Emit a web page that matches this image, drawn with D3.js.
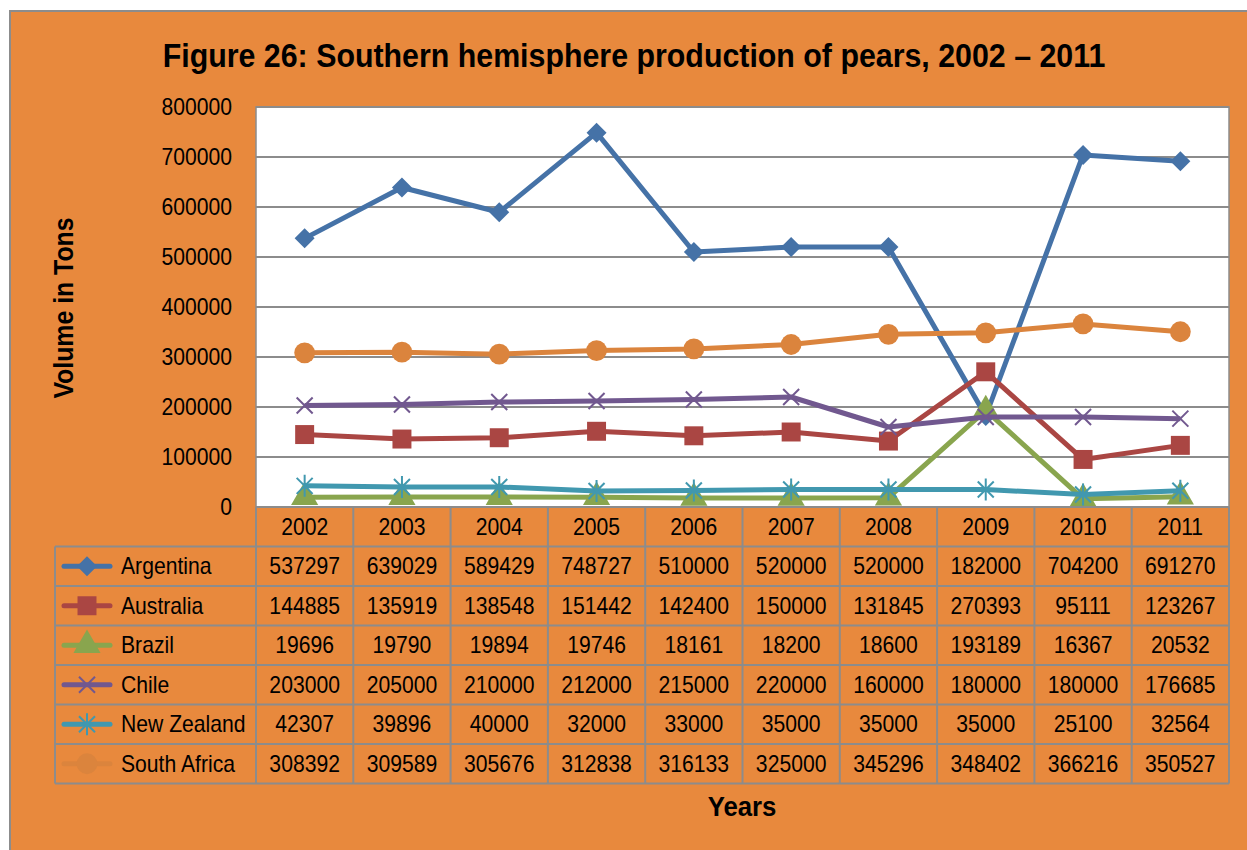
<!DOCTYPE html>
<html>
<head>
<meta charset="utf-8">
<script src="https://cdn.jsdelivr.net/npm/d3@7"></script>
<style>
body { margin: 0; background: #fff; }
text { font-family: "Liberation Sans Narrow", "Arial Narrow", "Liberation Sans", sans-serif; }
</style>
</head>
<body>
<div id="chart"></div>
<script>
// data
var years = ["2002","2003","2004","2005","2006","2007","2008","2009","2010","2011"]
var countries = ["Argentina","Australia","Brazil","Chile","New Zealand","South Africa"]
var argentina = [537297,639029,589429,748727,510000,520000,520000,182000,704200,691270]
var australia = [144885,135919,138548,151442,142400,150000,131845,270393,95111,123267]
var brazil = [19696,19790,19894,19746,18161,18200,18600,193189,16367,20532]
var chile = [203000,205000,210000,212000,215000,220000,160000,180000,180000,176685]
var newzealand = [42307,39896,40000,32000,33000,35000,35000,35000,25100,32564]
var southafrica = [308392,309589,305676,312838,316133,325000,345296,348402,366216,350527]
var yTicks = [0,100000,200000,300000,400000,500000,600000,700000,800000]

var seriesValues = [argentina, australia, brazil, chile, newzealand, southafrica]
var colors = ["#4572A7","#AA4643","#89A54E","#71588F","#4198AF","#DB843D"]
var markers = ["diamond","square","triangle","x","star","circle"]

var W = 1247, H = 850
var bg = "#E8893D"
var gridc = "#8c8c8c"
var sx = 0.92   // squeeze, no narrow font here

var px0 = 256, px1 = 1229, py0 = 107, py1 = 507
var rowH = 39.5
var legX = 55

var svg = d3.select("#chart").append("svg")
    .attr("width", W).attr("height", H)

function ntext(g, x, y, s){
  return g.append("text")
    .attr("transform", "translate(" + x + "," + y + ") scale(" + sx + ",1)")
    .text(s)
}

svg.append("rect")
    .attr("x", 10).attr("y", 11).attr("width", W + 10).attr("height", H + 10)
    .attr("fill", bg).attr("stroke", gridc).attr("stroke-width", 2)

ntext(svg, 634, 67, "Figure 26: Southern hemisphere production of pears, 2002 \u2013 2011")
    .attr("text-anchor", "middle")
    .style("font-size", "33px").style("font-weight", "bold")

var x = d3.scaleBand().domain(years).range([px0, px1])
var y = d3.scaleLinear().domain([0, 800000]).range([py1, py0])

svg.append("rect")
    .attr("x", px0).attr("y", py0).attr("width", px1 - px0).attr("height", py1 - py0)
    .attr("fill", "#fff").attr("stroke", gridc).attr("stroke-width", 1.5)

// grid lines
svg.append("g").selectAll("line").data(yTicks.slice(1))
  .enter().append("line")
  .attr("x1", px0).attr("x2", px1)
  .attr("y1", function(d){return y(d)}).attr("y2", function(d){return y(d)})
  .attr("stroke", gridc).attr("stroke-width", 2)

// y axis labels
var yAxis = d3.axisLeft(y).tickValues(yTicks).tickSize(0).tickPadding(26).tickFormat(d3.format("d"))
var ya = svg.append("g").attr("transform", "translate(" + px0 + ",0)").call(yAxis)
ya.select(".domain").remove()
ya.selectAll("text").style("font-size", "23px").attr("fill", "#000")
  .attr("transform", "scale(" + sx + ",1)")
  .style("font-family", '"Liberation Sans Narrow", "Arial Narrow", sans-serif')

svg.append("text")
    .attr("transform", "translate(73,308) rotate(-90) scale(" + sx + ",1)")
    .attr("text-anchor", "middle")
    .style("font-size", "27px").style("font-weight", "bold")
    .text("Volume in Tons")

svg.append("clipPath").attr("id", "plotclip")
  .append("rect").attr("x", px0).attr("y", py0 - 20).attr("width", px1 - px0 + 10).attr("height", py1 - py0 + 20)

var line = d3.line()
    .x(function(d, i){return x(years[i]) + x.bandwidth() / 2})
    .y(function(d){return y(d)})

function markerPath(type){
  if (type == "diamond") return d3.symbol().type(d3.symbolSquare).size(200)()
  if (type == "square") return d3.symbol().type(d3.symbolSquare).size(360)()
  if (type == "triangle") return d3.symbol().type(d3.symbolTriangle).size(320)()
  if (type == "circle") return d3.symbol().type(d3.symbolCircle).size(340)()
  if (type == "x") return "M-8,-8L8,8M-8,8L8,-8"
  if (type == "star") return "M-8,-8L8,8M-8,8L8,-8M0,-11L0,11"
}

function drawMarker(g, type, color){
  var p = g.append("path").attr("d", markerPath(type))
  if (type == "x" || type == "star") {
    p.attr("fill", "none").attr("stroke", color).attr("stroke-width", 2)
  } else {
    p.attr("fill", color)
  }
  if (type == "diamond") p.attr("transform", "rotate(45)")
  return p
}

var plot = svg.append("g").attr("clip-path", "url(#plotclip)")

seriesValues.forEach(function(vals, s){
  plot.append("path")
    .datum(vals)
    .attr("d", line)
    .attr("fill", "none")
    .attr("stroke", colors[s])
    .attr("stroke-width", 5)
    .attr("stroke-linejoin", "round")
  vals.forEach(function(v, i){
    var g = plot.append("g")
      .attr("transform", "translate(" + (x(years[i]) + x.bandwidth() / 2) + "," + y(v) + ")")
    drawMarker(g, markers[s], colors[s])
  })
})

// data table
var table = svg.append("g")
var tTop = py1
var rowsY = d3.range(countries.length + 2).map(function(i){return tTop + i * rowH})

table.append("line").attr("x1", px0).attr("x2", px1).attr("y1", tTop).attr("y2", tTop)
  .attr("stroke", gridc).attr("stroke-width", 2)
rowsY.slice(1).forEach(function(yy){
  table.append("line").attr("x1", legX).attr("x2", px1).attr("y1", yy).attr("y2", yy)
    .attr("stroke", gridc).attr("stroke-width", 2)
})
years.forEach(function(yr){
  table.append("line").attr("x1", x(yr)).attr("x2", x(yr)).attr("y1", tTop).attr("y2", rowsY[rowsY.length - 1])
    .attr("stroke", gridc).attr("stroke-width", 2)
})
table.append("line").attr("x1", px1).attr("x2", px1).attr("y1", tTop).attr("y2", rowsY[rowsY.length - 1])
  .attr("stroke", gridc).attr("stroke-width", 2)
table.append("line").attr("x1", legX).attr("x2", legX).attr("y1", rowsY[1]).attr("y2", rowsY[rowsY.length - 1])
  .attr("stroke", gridc).attr("stroke-width", 2)

years.forEach(function(d){
  ntext(table, x(d) + x.bandwidth() / 2, tTop + rowH / 2 + 8, d)
    .attr("text-anchor", "middle")
    .style("font-size", "23px")
})

countries.forEach(function(c, s){
  var cy = rowsY[s + 1] + rowH / 2
  table.append("line").attr("x1", 64).attr("x2", 110).attr("y1", cy).attr("y2", cy)
    .attr("stroke", colors[s]).attr("stroke-width", 5).attr("stroke-linecap", "round")
  var g = table.append("g").attr("transform", "translate(87," + cy + ")")
  drawMarker(g, markers[s], colors[s])
  ntext(table, 121, cy + 8, c).style("font-size", "23px")
  seriesValues[s].forEach(function(v, i){
    ntext(table, x(years[i]) + x.bandwidth() / 2, cy + 8, v)
      .attr("text-anchor", "middle")
      .style("font-size", "23px")
  })
})

ntext(svg, 742, 816, "Years")
    .attr("text-anchor", "middle")
    .style("font-size", "28px").style("font-weight", "bold")
</script>
</body>
</html>
